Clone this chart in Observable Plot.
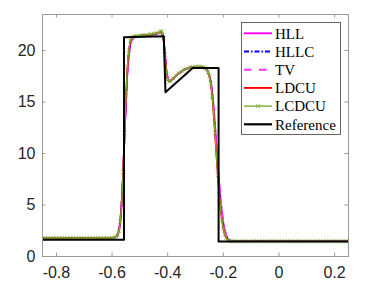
<!DOCTYPE html>
<html><head><meta charset="utf-8">
<script src="https://cdn.jsdelivr.net/npm/d3@7"></script>
<script src="https://cdn.jsdelivr.net/npm/@observablehq/plot@0.6"></script>
<style>body{margin:0;background:#fff}#chart{width:377px;height:286px}</style>
</head><body><div id="chart"></div>
<script>
const xTicks = [-0.8, -0.6, -0.4, -0.2, 0, 0.2];
const yTicks = [0, 5, 10, 15, 20];
const seriesNames = ["HLL", "HLLC", "TV", "LDCU", "LCDCU", "Reference"];

const xs = [-0.85,-0.80,-0.75,-0.70,-0.65,-0.60,-0.59,-0.58,-0.575,-0.57,-0.565,-0.56,-0.555,-0.55,-0.545,-0.54,-0.535,-0.53,-0.52,-0.50,-0.48,-0.46,-0.44,-0.43,-0.425,-0.42,-0.415,-0.41,-0.405,-0.40,-0.395,-0.39,-0.38,-0.36,-0.34,-0.32,-0.30,-0.28,-0.27,-0.26,-0.255,-0.25,-0.245,-0.24,-0.235,-0.23,-0.225,-0.22,-0.215,-0.21,-0.205,-0.20,-0.195,-0.19,-0.185,-0.18,-0.17,-0.15,-0.10,-0.05,0,0.05,0.10,0.15,0.20,0.25];
const hll = [1.78,1.78,1.78,1.78,1.78,1.79,1.85,2.1,2.6,3.6,5.4,8.2,11.6,14.9,17.6,19.4,20.5,21.0,21.3,21.4,21.45,21.5,21.6,21.7,21.75,21.7,21.2,19.8,18.2,17.3,17.0,17.05,17.3,17.8,18.15,18.35,18.4,18.4,18.35,18.2,17.95,17.6,17.0,16.0,14.6,12.8,10.9,9.0,7.2,5.6,4.3,3.3,2.6,2.1,1.8,1.62,1.52,1.49,1.49,1.49,1.49,1.49,1.49,1.49,1.49,1.49];
const hllc = [1.78,1.78,1.78,1.78,1.78,1.79,1.84,2.05,2.5,3.5,5.3,8.2,11.8,15.2,17.9,19.7,20.7,21.15,21.35,21.45,21.5,21.55,21.65,21.75,21.8,21.75,21.2,19.7,18.1,17.25,17.0,17.05,17.3,17.8,18.15,18.35,18.42,18.42,18.37,18.2,17.92,17.55,16.9,15.8,14.3,12.4,10.4,8.5,6.7,5.1,3.9,3.0,2.35,1.95,1.7,1.57,1.5,1.48,1.48,1.48,1.48,1.48,1.48,1.48,1.48,1.48];
const tv = [1.78,1.78,1.78,1.78,1.78,1.79,1.86,2.12,2.65,3.7,5.5,8.3,11.6,14.8,17.5,19.3,20.4,20.95,21.3,21.4,21.45,21.5,21.6,21.68,21.72,21.65,21.1,19.8,18.3,17.4,17.05,17.05,17.3,17.8,18.12,18.33,18.4,18.4,18.33,18.15,17.9,17.5,16.9,15.9,14.5,12.8,10.9,9.0,7.3,5.7,4.4,3.4,2.7,2.15,1.82,1.64,1.53,1.49,1.49,1.49,1.49,1.49,1.49,1.49,1.49,1.49];
const ldcu = [1.78,1.78,1.78,1.78,1.78,1.79,1.85,2.08,2.5,3.4,5.2,8.2,12.0,15.5,18.2,19.9,20.8,21.2,21.38,21.45,21.5,21.58,21.7,21.78,21.85,21.8,21.2,19.6,18.0,17.2,17.0,17.05,17.3,17.8,18.15,18.35,18.45,18.45,18.4,18.2,17.9,17.5,16.8,15.6,14.0,12.0,9.9,7.9,6.1,4.6,3.5,2.7,2.15,1.8,1.62,1.54,1.49,1.48,1.48,1.48,1.48,1.48,1.48,1.48,1.48,1.48];

const lcdcuX = [-0.85,-0.84,-0.83,-0.82,-0.81,-0.80,-0.79,-0.78,-0.77,-0.76,-0.75,-0.74,-0.73,-0.72,-0.71,-0.70,-0.69,-0.68,-0.67,-0.66,-0.65,-0.64,-0.63,-0.62,-0.61,-0.60,
-0.595,-0.59,-0.585,-0.58,-0.575,-0.57,-0.565,-0.56,-0.555,-0.55,-0.545,-0.54,-0.535,-0.53,-0.525,-0.52,
-0.51,-0.50,-0.49,-0.48,-0.47,-0.46,-0.45,-0.44,-0.43,
-0.425,-0.42,-0.415,-0.41,-0.405,-0.40,-0.395,-0.39,
-0.38,-0.37,-0.36,-0.35,-0.34,-0.33,-0.32,-0.31,-0.30,-0.29,-0.28,-0.27,
-0.265,-0.26,-0.255,-0.25,-0.245,-0.24,-0.235,-0.23,-0.225,-0.22,-0.215,-0.21,-0.205,-0.20,-0.195,-0.19,-0.185,-0.18,-0.175,
-0.17,-0.16,-0.15,-0.14,-0.13,-0.12,-0.11,-0.10,-0.09,-0.08,-0.07,-0.06,-0.05,-0.04,-0.03,-0.02,-0.01,0,0.01,0.02,0.03,0.04,0.05,0.06,0.07,0.08,0.09,0.10,0.11,0.12,0.13,0.14,0.15,0.16,0.17,0.18,0.19,0.20,0.21,0.22,0.23,0.24,0.25];
const lcdcuY = [1.78,1.78,1.78,1.78,1.78,1.78,1.78,1.78,1.78,1.78,1.78,1.78,1.78,1.78,1.78,1.78,1.78,1.78,1.78,1.78,1.78,1.78,1.78,1.78,1.78,1.79,
1.82,1.86,1.95,2.1,2.5,3.4,5.2,8.2,12.0,15.6,18.4,20.0,20.9,21.25,21.35,21.4,
21.45,21.45,21.5,21.5,21.55,21.6,21.65,21.7,21.8,
21.9,21.85,21.2,19.6,18.0,17.2,17.0,17.05,
17.3,17.55,17.8,18.0,18.15,18.25,18.35,18.4,18.45,18.45,18.45,18.4,
18.3,18.2,17.9,17.5,16.8,15.6,14.0,12.0,9.9,7.9,6.1,4.6,3.5,2.7,2.15,1.8,1.62,1.54,1.5,
1.48,1.48,1.48,1.48,1.48,1.48,1.48,1.48,1.48,1.48,1.48,1.48,1.48,1.48,1.48,1.48,1.48,1.48,1.48,1.48,1.48,1.48,1.48,1.48,1.48,1.48,1.48,1.48,1.48,1.48,1.48,1.48,1.48,1.48,1.48,1.48,1.48,1.48,1.48,1.48,1.48,1.48,1.48];

const refX = [-0.85, -0.557, -0.557, -0.414, -0.408, -0.31, -0.217, -0.217, 0.25];
const refY = [1.62, 1.62, 21.3, 21.4, 15.95, 18.3, 18.3, 1.46, 1.46];

const zip = (X, Y) => X.map((x, i) => ({x, y: Y[i]}));

const W = 377, H = 286, mL = 42, mR = 29, mT = 14, mB = 30;
const fw = W - mL - mR, fh = H - mT - mB, tl = 3.5, axisColor = "#9a9a9a";

const styles = {
  HLL: {stroke: "#ff00ff", dash: null, w: 1.7},
  HLLC: {stroke: "#0000ff", dash: "5,2,1.5,2", w: 1.7},
  TV: {stroke: "#ff33ff", dash: "7.5,7.5", w: 1.7},
  LDCU: {stroke: "#ff0000", dash: null, w: 1.7},
  LCDCU: {stroke: "#77ac30", dash: null, w: 1.2},
  Reference: {stroke: "#000000", dash: null, w: 2}
};
const seriesData = {
  HLL: zip(xs, hll), HLLC: zip(xs, hllc), TV: zip(xs, tv), LDCU: zip(xs, ldcu),
  LCDCU: zip(lcdcuX, lcdcuY), Reference: zip(refX, refY)
};

const marks = [
  Plot.ruleX(xTicks, {stroke: axisColor, insetTop: fh - tl}),
  Plot.ruleX(xTicks, {stroke: axisColor, insetBottom: fh - tl}),
  Plot.ruleY(yTicks, {stroke: axisColor, insetRight: fw - tl}),
  Plot.ruleY(yTicks, {stroke: axisColor, insetLeft: fw - tl}),
  Plot.axisX({ticks: xTicks, tickSize: 0, tickPadding: 10, tickFormat: d => String(d), label: null, fontSize: 16}),
  Plot.axisY({ticks: yTicks, tickSize: 0, tickPadding: 7, tickFormat: d => String(d), label: null, fontSize: 16}),
];
for (const name of seriesNames) {
  const s = styles[name];
  marks.push(Plot.line(seriesData[name], {x: "x", y: "y", stroke: s.stroke, strokeWidth: s.w, strokeDasharray: s.dash, clip: true}));
  if (name === "LCDCU") {
    marks.push(Plot.dot(seriesData[name], {x: "x", y: "y", symbol: "times", r: 1.9, stroke: s.stroke, strokeWidth: 0.8, clip: true}));
  }
}
marks.push(Plot.frame({stroke: axisColor}));

const plot = Plot.plot({
  width: W, height: H,
  marginLeft: mL, marginRight: mR, marginTop: mT, marginBottom: mB,
  x: {domain: [-0.85, 0.25]},
  y: {domain: [0, 23.5]},
  style: {fontFamily: "'Liberation Sans', Arial, sans-serif", fontSize: "16px", color: "#262626", background: "#fff"},
  marks
});
document.getElementById("chart").appendChild(plot);

// legend
const svg = d3.select(plot);
const lg = svg.append("g").attr("text-anchor", "start");
lg.append("rect").attr("x", 241.5).attr("y", 22.5).attr("width", 99).attr("height", 112)
  .style("fill", "#ffffff").style("stroke", "#555555").style("stroke-width", "0.9px");
seriesNames.forEach((name, i) => {
  const s = styles[name];
  const cy = 33.3 + i * 18.2;
  const ln = lg.append("line").attr("x1", 244).attr("x2", 272).attr("y1", cy).attr("y2", cy)
    .style("stroke", s.stroke).style("stroke-width", (s.w + 0.2) + "px");
  if (s.dash) ln.style("stroke-dasharray", s.dash);
  if (name === "LCDCU") {
    lg.append("path").attr("d", d3.symbol(d3.symbolTimes, 1.9 * 1.9 * Math.PI)())
      .attr("transform", `translate(258,${cy})`).style("fill", "none").style("stroke", s.stroke).style("stroke-width", "0.8px");
  }
  lg.append("text").attr("x", 275).attr("y", cy).attr("dy", "0.35em")
    .style("text-anchor", "start")
    .style("font-family", "'Liberation Serif', 'Times New Roman', serif").style("font-size", "15px")
    .style("fill", "#000").text(name);
});
</script></body></html>
